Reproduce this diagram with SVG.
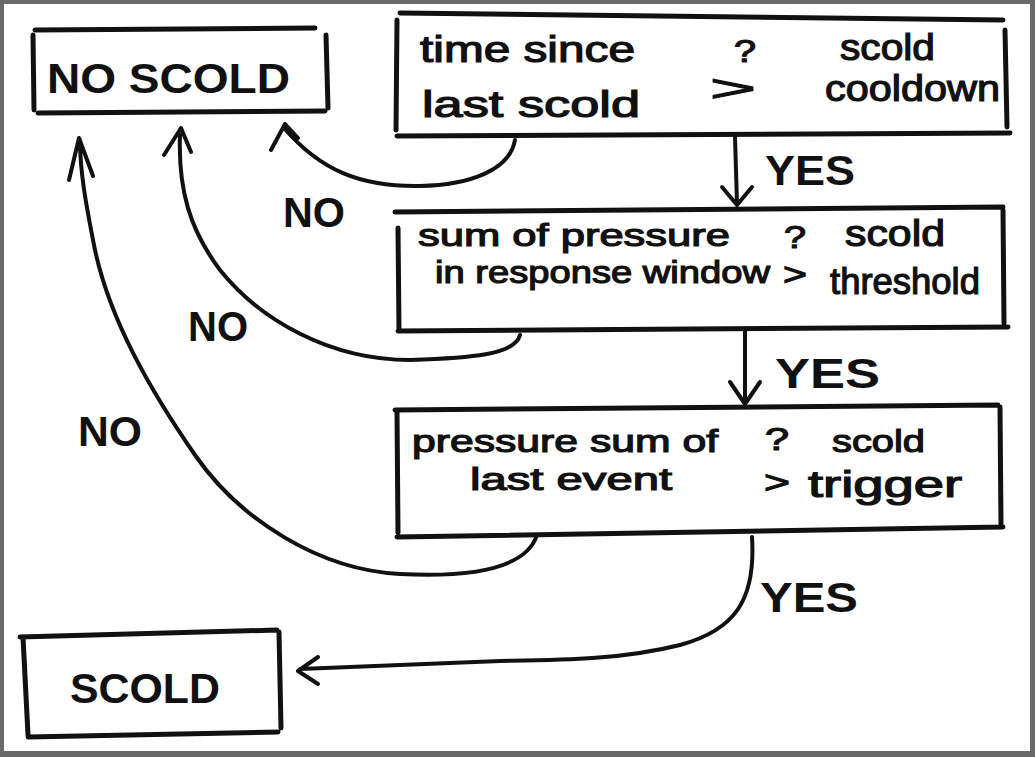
<svg xmlns="http://www.w3.org/2000/svg" width="1035" height="757" viewBox="0 0 1035 757">
<style>
.box{fill:none;stroke:#111;stroke-width:5;stroke-linecap:round;stroke-linejoin:round}
.con{fill:none;stroke:#111;stroke-width:4;stroke-linecap:round;stroke-linejoin:round}
.t{font-family:"Liberation Sans","DejaVu Sans",sans-serif;font-size:36px;fill:#111;stroke:#111;stroke-width:1.2}
.s{font-size:32px}
.b{font-family:"Liberation Sans","DejaVu Sans",sans-serif;font-size:42px;font-weight:bold;fill:#111}
</style>
<rect x="0" y="0" width="1035" height="757" fill="#6a6a6a"/>
<rect x="4" y="4" width="1026" height="747" fill="#ffffff"/>

<g id="no-scold">
<path class="box" d="M35,30 L315,28 M33,35 L34,110 M326,35 L328,108 M38,113 L325,111"/>
<text class="b" x="47" y="93" textLength="243" lengthAdjust="spacingAndGlyphs">NO SCOLD</text>
</g>

<g id="check-cooldown">
<path class="box" d="M400,13 L1003,20 M397,20 L396,130 M1005,30 L1007,127 M397,136 L1010,133"/>
<text class="t" x="420" y="62" textLength="215" lengthAdjust="spacingAndGlyphs">time since</text>
<text class="t" x="422" y="117" textLength="218" lengthAdjust="spacingAndGlyphs">last scold</text>
<text class="t s" x="734" y="62" textLength="22" lengthAdjust="spacingAndGlyphs">?</text>
<text class="t" x="710" y="101" textLength="46" lengthAdjust="spacingAndGlyphs">&gt;</text>
<text class="t" x="840" y="60" textLength="95" lengthAdjust="spacingAndGlyphs">scold</text>
<text class="t" x="825" y="101" textLength="175" lengthAdjust="spacingAndGlyphs">cooldown</text>
</g>

<g id="check-threshold">
<path class="box" d="M395,212 L1003,207 M398,228 L399,330 M1003,210 L1004,323 M398,331 L1008,327"/>
<text class="t s" x="418" y="246" textLength="312" lengthAdjust="spacingAndGlyphs">sum of pressure</text>
<text class="t s" x="435" y="283" textLength="335" lengthAdjust="spacingAndGlyphs">in response window</text>
<text class="t s" x="784" y="248" textLength="22" lengthAdjust="spacingAndGlyphs">?</text>
<text class="t s" x="783" y="285" textLength="24" lengthAdjust="spacingAndGlyphs">&gt;</text>
<text class="t" x="845" y="246" textLength="100" lengthAdjust="spacingAndGlyphs">scold</text>
<text class="t" x="830" y="294" textLength="150" lengthAdjust="spacingAndGlyphs">threshold</text>
</g>

<g id="check-trigger">
<path class="box" d="M395,410 L998,405 M397,412 L398,533 M1000,407 L1001,525 M397,537 L1003,527"/>
<text class="t s" x="412" y="452" textLength="306" lengthAdjust="spacingAndGlyphs">pressure sum of</text>
<text class="t s" x="470" y="490" textLength="202" lengthAdjust="spacingAndGlyphs">last event</text>
<text class="t s" x="765" y="450" textLength="24" lengthAdjust="spacingAndGlyphs">?</text>
<text class="t s" x="764" y="493" textLength="26" lengthAdjust="spacingAndGlyphs">&gt;</text>
<text class="t s" x="832" y="452" textLength="93" lengthAdjust="spacingAndGlyphs">scold</text>
<text class="t" x="808" y="497" textLength="154" lengthAdjust="spacingAndGlyphs">trigger</text>
</g>

<g id="scold">
<path class="box" d="M20,637 L277,630 M23,637 L28,735 M279,632 L281,728 M28,737 L278,732"/>
<text class="b" x="70" y="703" textLength="150" lengthAdjust="spacingAndGlyphs">SCOLD</text>
</g>

<g id="connectors">
<path class="con" d="M735,137 L737,204 M722,187 L737,205 L752,187"/>
<path class="con" d="M745,331 L745,402 M730,382 L745,404 L760,382"/>
<path class="con" d="M752,537 C756,600 735,630 680,645 C620,660 560,660 500,661 L300,669 M318,657 L298,671 L318,684"/>
<path class="con" d="M515,140 C510,170 470,185 420,186 C360,187 320,170 284,128 M271,150 L285,124 L298,138"/>
<path class="con" d="M520,335 C515,355 470,358 410,360 C330,360 260,320 220,270 C190,230 178,190 180,135 M164,155 L181,128 L191,152"/>
<path class="con" d="M537,535 C525,572 460,577 400,574 C320,570 240,520 195,455 C150,390 110,320 95,250 C85,200 80,170 80,140 M69,180 L79,138 L93,176"/>
<text class="b" x="765" y="185" textLength="90" lengthAdjust="spacingAndGlyphs">YES</text>
<text class="b" x="775" y="388" textLength="105" lengthAdjust="spacingAndGlyphs">YES</text>
<text class="b" x="760" y="612" textLength="98" lengthAdjust="spacingAndGlyphs">YES</text>
<text class="b" x="283" y="227" textLength="62" lengthAdjust="spacingAndGlyphs">NO</text>
<text class="b" x="188" y="341" textLength="60" lengthAdjust="spacingAndGlyphs">NO</text>
<text class="b" x="78" y="446" textLength="64" lengthAdjust="spacingAndGlyphs">NO</text>
</g>
</svg>
